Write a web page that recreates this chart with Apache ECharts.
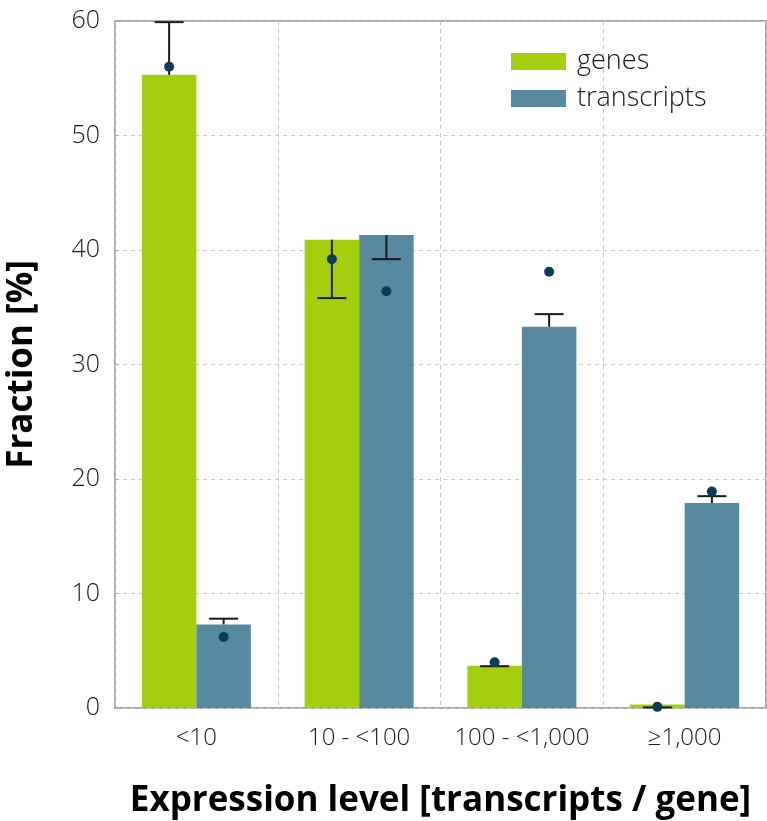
<!DOCTYPE html>
<html>
<head>
<meta charset="utf-8">
<script src="https://cdn.jsdelivr.net/npm/echarts@6/dist/echarts.min.js"></script>
<style>html,body{margin:0;padding:0;background:#fff;}#chart{width:767px;height:821px;}</style>
</head>
<body>
<div id="chart"></div>
<script>
var categories = ['<10', '10 - <100', '100 - <1,000', '≥1,000'];
var genesValues = [55.3, 40.9, 3.7, 0.3];
var transcriptsValues = [7.3, 41.3, 33.3, 17.9];
var genesErrorEnds = [59.9, 35.8, 3.65, 0.05];
var transcriptsErrorEnds = [7.8, 39.2, 34.4, 18.5];
var genesDots = [56.0, 39.2, 4.0, 0.1];
var transcriptsDots = [6.2, 36.4, 38.1, 18.9];
var yTicks = [0, 10, 20, 30, 40, 50, 60];

var BAR_FRAC = 0.335;
var GREEN = '#a4cf0c';
var BLUE = '#578aa1';
var DOT = '#0b3d58';
var FONT = "'Open Sans', 'Noto Sans', sans-serif";

function errRender(sign) {
  return function (params, api) {
    var c = api.value(0);
    var p0 = api.coord([c, api.value(1)]);
    var p1 = api.coord([c, api.value(2)]);
    var band = api.size([1, 0])[0];
    var x = p0[0] + sign * band * BAR_FRAC / 2;
    var hw = 14.5;
    return {
      type: 'group',
      children: [
        {type: 'line', shape: {x1: x, y1: p0[1], x2: x, y2: p1[1]}, style: {stroke: '#1a1a1a', lineWidth: 2}},
        {type: 'line', shape: {x1: x - hw, y1: p1[1], x2: x + hw, y2: p1[1]}, style: {stroke: '#1a1a1a', lineWidth: 2}}
      ]
    };
  };
}
function dotRender(sign) {
  return function (params, api) {
    var c = api.value(0);
    var p = api.coord([c, api.value(1)]);
    var band = api.size([1, 0])[0];
    var x = p[0] + sign * band * BAR_FRAC / 2;
    return {type: 'circle', shape: {cx: x, cy: p[1], r: 5}, style: {fill: DOT}};
  };
}

var chart = echarts.init(document.getElementById('chart'), null, {renderer: 'canvas'});
chart.setOption({
  animation: false,
  backgroundColor: '#fff',
  grid: {left: 115, right: 1, top: 21, bottom: 113, outerBoundsMode: 'none', containLabel: false,
    show: true, borderColor: '#aaaaaa', borderWidth: 2, backgroundColor: 'transparent'},
  legend: {
    data: ['genes', 'transcripts'],
    orient: 'vertical',
    left: 506, top: 43,
    icon: 'rect',
    itemWidth: 55, itemHeight: 17, itemGap: 10,
    textStyle: {fontSize: 27, color: '#1a1a1a', fontFamily: FONT, fontWeight: 300, padding: [0, 0, 0, 6]}
  },
  xAxis: {
    type: 'category',
    data: categories,
    boundaryGap: true,
    axisLine: {show: false},
    axisTick: {show: false, interval: 0},
    axisLabel: {interval: 0, hideOverlap: false, fontSize: 24, color: '#1a1a1a', fontFamily: FONT, fontWeight: 300, margin: 18},
    splitLine: {show: true, interval: 0, lineStyle: {type: [4, 4], color: '#c8c8c8', width: 1}},
    name: 'Expression level [transcripts / gene]',
    nameLocation: 'middle',
    nameGap: 76,
    nameTextStyle: {fontSize: 35, fontWeight: 'bold', color: '#000', fontFamily: FONT}
  },
  yAxis: {
    type: 'value',
    min: 0, max: 60, interval: 10,
    axisLine: {show: false},
    axisTick: {show: true, inside: true, length: 4, lineStyle: {color: '#aaa'}},
    axisLabel: {fontSize: 25, color: '#1a1a1a', fontFamily: FONT, fontWeight: 300, margin: 15,
      formatter: function (v) { return yTicks.indexOf(v) >= 0 ? String(v) : ''; }},
    splitLine: {show: true, lineStyle: {type: [4, 4], color: '#c8c8c8', width: 1}},
    name: 'Fraction [%]',
    nameLocation: 'middle',
    nameGap: 75,
    nameTextStyle: {fontSize: 35, fontWeight: 'bold', color: '#000', fontFamily: FONT}
  },
  series: [
    {name: 'genes', type: 'bar', data: genesValues, barWidth: (BAR_FRAC * 100) + '%', barGap: '0%', itemStyle: {color: GREEN}, z: 2},
    {name: 'transcripts', type: 'bar', data: transcriptsValues, barWidth: (BAR_FRAC * 100) + '%', barGap: '0%', itemStyle: {color: BLUE}, z: 2},
    {name: 'genesErr', type: 'custom', renderItem: errRender(-1), encode: {x: 0, y: [1, 2]}, z: 3,
      data: categories.map(function (c, i) { return [i, genesValues[i], genesErrorEnds[i]]; })},
    {name: 'transcriptsErr', type: 'custom', renderItem: errRender(1), encode: {x: 0, y: [1, 2]}, z: 3,
      data: categories.map(function (c, i) { return [i, transcriptsValues[i], transcriptsErrorEnds[i]]; })},
    {name: 'genesDots', type: 'custom', renderItem: dotRender(-1), encode: {x: 0, y: 1}, z: 4,
      data: categories.map(function (c, i) { return [i, genesDots[i]]; })},
    {name: 'transcriptsDots', type: 'custom', renderItem: dotRender(1), encode: {x: 0, y: 1}, z: 4,
      data: categories.map(function (c, i) { return [i, transcriptsDots[i]]; })}
  ]
});
</script>
</body>
</html>
